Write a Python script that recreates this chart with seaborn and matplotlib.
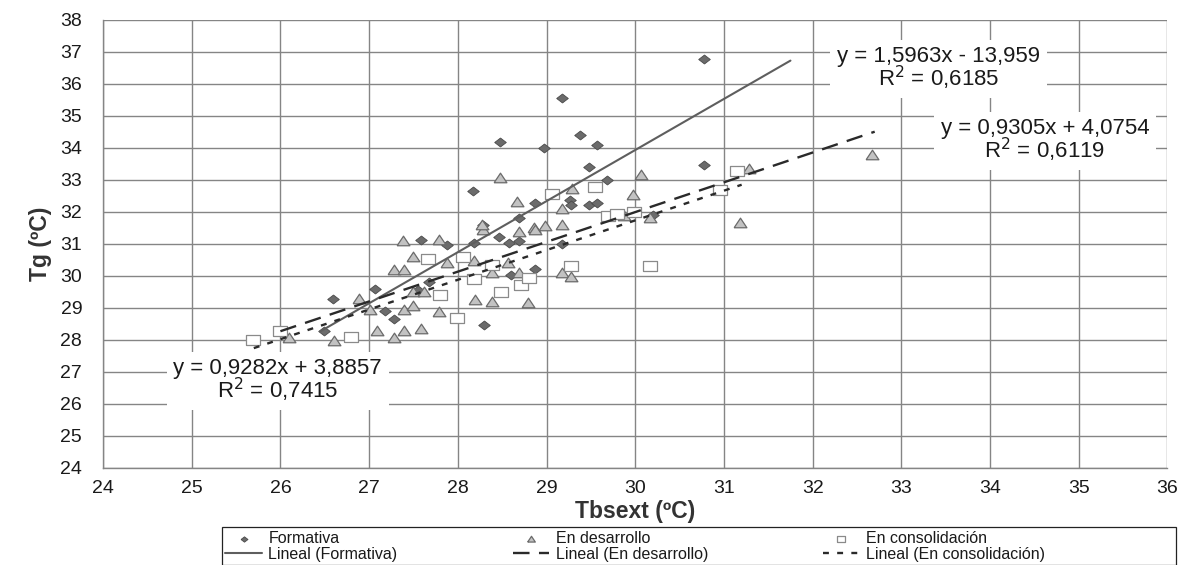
import numpy as np
import pandas as pd
import seaborn as sns
import matplotlib.pyplot as plt
from matplotlib.patches import Rectangle

# datos (Tbsext, Tg)
form_x = [26.49, 26.59, 27.07, 27.18, 27.28, 27.58, 27.68, 27.88, 28.17, 28.18,
          28.29, 28.28, 28.46, 28.48, 28.58, 28.60, 28.69, 28.69, 28.87, 28.87,
          28.97, 29.17, 29.18, 29.27, 29.28, 29.38, 29.48, 29.48, 29.57, 29.57,
          29.68, 30.77, 30.77, 30.20, 27.55]
form_y = [28.29, 29.28, 29.60, 28.89, 28.65, 31.11, 29.80, 30.95, 32.66, 31.02,
          28.47, 31.60, 31.22, 34.17, 31.04, 30.03, 31.82, 31.08, 32.27, 30.21,
          33.99, 35.56, 31.00, 32.36, 32.20, 34.39, 33.39, 32.20, 34.10, 32.27,
          32.99, 36.76, 33.47, 31.90, 29.55]

desa_x = [26.10, 26.60, 26.89, 27.01, 27.09, 27.28, 27.39, 27.59, 27.39, 27.49,
          27.38, 27.49, 27.28, 27.39, 27.49, 27.62, 27.79, 27.79, 27.88, 28.18,
          28.19, 28.28, 28.27, 28.38, 28.39, 28.48, 28.57, 28.67, 28.69, 28.69,
          28.79, 28.86, 28.87, 28.98, 29.18, 29.18, 29.18, 29.28, 29.29, 29.87,
          29.97, 30.06, 30.17, 31.18, 31.28, 32.67]
desa_y = [28.07, 27.96, 29.27, 28.94, 28.27, 28.07, 28.29, 28.34, 28.94, 29.05,
          31.08, 30.60, 30.19, 30.19, 29.48, 29.48, 31.11, 28.86, 30.41, 30.46,
          29.23, 31.44, 31.60, 30.08, 29.19, 33.07, 30.41, 32.30, 31.36, 30.08,
          29.16, 31.49, 31.44, 31.55, 31.60, 32.09, 30.08, 29.97, 32.71, 31.87,
          32.52, 33.14, 31.82, 31.65, 33.34, 33.77]

cons_x = [25.69, 25.99, 26.80, 27.66, 27.80, 27.99, 28.06, 28.18, 28.38, 28.49,
          28.71, 28.80, 29.06, 29.28, 29.55, 29.69, 29.79, 29.99, 30.17, 30.96,
          31.15]
cons_y = [27.99, 28.29, 28.10, 30.51, 29.41, 28.67, 30.60, 29.89, 30.35, 29.48,
          29.70, 29.92, 32.57, 30.32, 32.79, 31.87, 31.93, 31.98, 30.32, 32.69,
          33.28]

# lineas de tendencia
grupos = ["Formativa", "En desarrollo", "En consolidación"]
pendientes = [1.5963, 0.9305, 0.9282]
ordenadas = [-13.959, 4.0754, 3.8857]
x_inicio = [26.45, 26.0, 25.7]
x_fin = [31.75, 32.7, 31.2]
ecuaciones = ["y = 1,5963x - 13,959\nR$^2$ = 0,6185",
              "y = 0,9305x + 4,0754\nR$^2$ = 0,6119",
              "y = 0,9282x + 3,8857\nR$^2$ = 0,7415"]
pos_ecuaciones = [(33.42, 36.47), (34.62, 34.22), (25.97, 26.72)]

sns.set_style("white")
plt.rcParams['font.family'] = ['Liberation Sans', 'DejaVu Sans']

fig = plt.figure(figsize=(11.84, 5.65), dpi=100)
ax = fig.add_axes([0.087, 0.172, 0.899, 0.793])

rombo = [(-1.3, 0), (0, 1), (1.3, 0), (0, -1), (-1.3, 0)]
triang = [(-1.2, -0.8), (1.2, -0.8), (0, 1), (-1.2, -0.8)]
rect = [(-1.3, -0.9), (1.3, -0.9), (1.3, 0.9), (-1.3, 0.9), (-1.3, -0.9)]

sns.scatterplot(x=form_x, y=form_y, ax=ax, marker=rombo, s=70, color="#6b6b6b",
                edgecolor="#4a4a4a", linewidth=0.6, label="Formativa", zorder=3)
sns.scatterplot(x=desa_x, y=desa_y, ax=ax, marker=triang, s=85, color="#c2c2c2",
                edgecolor="#6a6a6a", linewidth=0.9, label="En desarrollo", zorder=3)
sns.scatterplot(x=cons_x, y=cons_y, ax=ax, marker=rect, s=95, color="white",
                edgecolor="#8a8a8a", linewidth=0.9, label="En consolidación", zorder=3)

estilos = ["-", (0, (7, 4)), (0, (2.5, 3.5))]
colores = ["#5e5e5e", "#2a2a2a", "#2a2a2a"]
anchos = [1.5, 1.7, 1.7]
for i, g in enumerate(grupos):
    xs = np.array([x_inicio[i], x_fin[i]])
    ys = pendientes[i] * xs + ordenadas[i]
    sns.lineplot(x=xs, y=ys, ax=ax, color=colores[i], linestyle=estilos[i],
                 linewidth=anchos[i], label=f"Lineal ({g})", zorder=4)

for txt, (tx, ty) in zip(ecuaciones, pos_ecuaciones):
    ax.text(tx, ty, txt, ha="center", va="center", fontsize=16, color="#1a1a1a",
            linespacing=0.85, zorder=5,
            bbox=dict(boxstyle="square,pad=0.3", fc="white", ec="none"))

ax.set_xlim(24, 36)
ax.set_ylim(24, 38)
ax.set_xticks(range(24, 37))
ax.set_yticks(range(24, 39))
ax.set_axisbelow(True)
ax.grid(True, color="#858585", linewidth=1.0)
for s in ["top", "right"]:
    ax.spines[s].set_visible(False)
for s in ["left", "bottom"]:
    ax.spines[s].set_color("#858585")
    ax.spines[s].set_linewidth(1.0)
ax.tick_params(axis="both", labelsize=14, colors="#1a1a1a", length=6,
               width=1, color="#858585", direction="out")
ax.tick_params(axis="y", pad=9)
ax.tick_params(axis="x", pad=3)
ax.set_xlabel("Tbsext (ºC)", fontsize=16.5, fontweight="bold", color="#333333", labelpad=2)
ax.set_ylabel("Tg (ºC)", fontsize=16.5, fontweight="bold", color="#333333", labelpad=6)

handles, labels = ax.get_legend_handles_labels()
ax.legend_.remove()
orden = [0, 3, 1, 4, 2, 5]
leg = fig.legend([handles[i] for i in orden], [labels[i] for i in orden],
                 loc="lower left", bbox_to_anchor=(0.189, 0.003),
                 ncol=3, fontsize=11.5, frameon=False, borderpad=0.1,
                 labelspacing=0.05, handlelength=2.3, handletextpad=0.4,
                 markerscale=0.6, columnspacing=7.2, borderaxespad=0.0)
for t in leg.get_texts():
    t.set_color("#1a1a1a")
# marco del recuadro de leyenda, hasta el borde derecho como en el original
fig.patches.append(Rectangle((0.1875, 0.0), 0.806, 0.067, transform=fig.transFigure,
                             fill=False, edgecolor="#222222", linewidth=0.9,
                             clip_on=False))

fig.savefig("out.png", dpi=100)
